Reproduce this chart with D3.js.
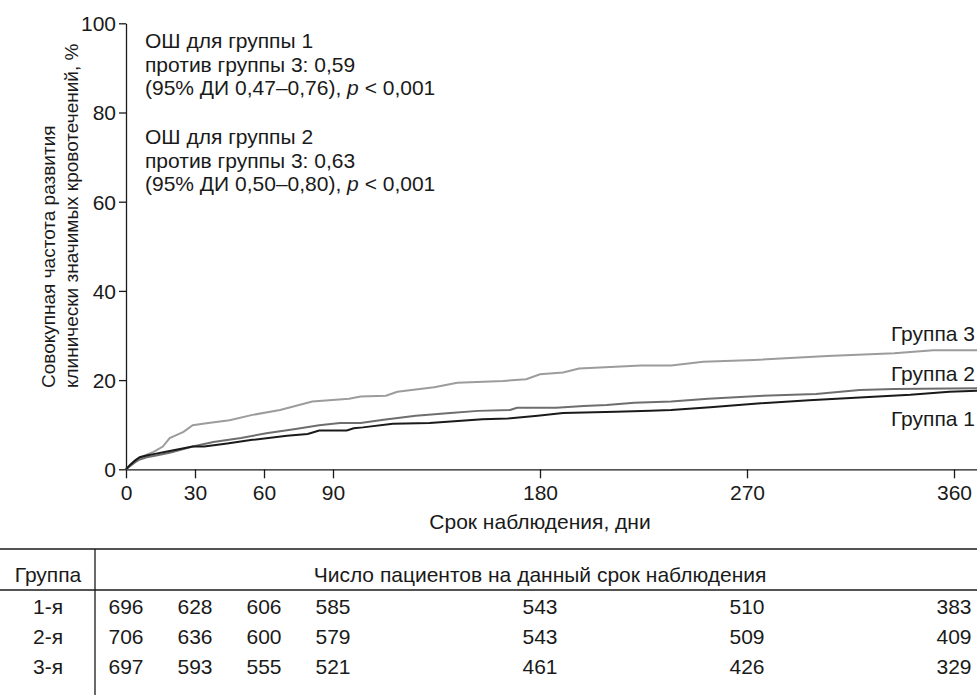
<!DOCTYPE html>
<html><head><meta charset="utf-8">
<script src="https://cdn.jsdelivr.net/npm/d3@7"></script>
<style>
body{margin:0;background:#fff;}
text{font-family:"Liberation Sans",Arial,sans-serif;fill:#1a1a1a;}
</style></head>
<body><svg id="c" width="977" height="695"></svg>
<script>
// Data (days, cumulative incidence %)
const group1Days = [0,2,4,6,9,12,19,24,29,34,44,55,70,79,84,96,99,103,116,132,155,166,179,190,213,228,237,254,276,297,319,341,358,370];
const group1Vals = [0,1.1,2.0,2.7,3.1,3.4,4.1,4.6,5.1,5.1,5.8,6.6,7.5,7.9,8.7,8.7,9.2,9.4,10.2,10.4,11.2,11.4,12.0,12.6,12.9,13.1,13.3,13.9,14.8,15.5,16.1,16.7,17.4,17.6];
const group2Days = [0,2,4,6,9,12,19,29,38,50,61,73,84,93,102,112,126,141,153,167,170,187,199,209,221,237,253,273,300,319,334,370];
const group2Vals = [0,0.8,1.6,2.2,2.7,3.0,3.7,5.1,6.1,7.0,8.1,9.0,9.9,10.4,10.4,11.1,12.0,12.6,13.1,13.3,13.8,13.8,14.2,14.4,14.9,15.2,15.8,16.4,16.9,17.8,18.0,18.2];
const group3Days = [0,2,4,6,9,12,16,19,25,29,35,45,55,67,81,97,102,113,118,134,144,164,174,180,190,197,224,237,251,273,305,334,351,370];
const group3Vals = [0,1.0,1.9,2.7,3.3,3.9,5.1,7.0,8.4,9.9,10.3,11.0,12.2,13.3,15.2,15.8,16.3,16.5,17.4,18.4,19.4,19.8,20.2,21.3,21.7,22.6,23.3,23.3,24.1,24.5,25.4,26.0,26.7,26.7];
const seriesNames = ["Группа 1","Группа 2","Группа 3"];
const xTicks = [0,30,60,90,180,270,360];
const yTicks = [0,20,40,60,80,100];
const tableRowLabels = ["1-я","2-я","3-я"];
const atRisk1 = [696,628,606,585,543,510,383];
const atRisk2 = [706,636,600,579,543,509,409];
const atRisk3 = [697,593,555,521,461,426,329];
const annotation1 = ["ОШ для группы 1","против группы 3: 0,59","(95% ДИ 0,47–0,76), "];
const annotation2 = ["ОШ для группы 2","против группы 3: 0,63","(95% ДИ 0,50–0,80), "];
const yTitle = ["Совокупная частота развития","клинически значимых кровотечений, %"];
const xTitle = "Срок наблюдения, дни";
const tableHeader = ["Группа","Число пациентов на данный срок наблюдения"];

const svg = d3.select("#c");
const FS = 21;
const x = d3.scaleLinear().domain([0,370]).range([126,977]);
const y = d3.scaleLinear().domain([0,100]).range([469.3,23.3]);

// axes
const xAxis = svg.append("g").attr("transform",`translate(0,${y(0)})`)
  .call(d3.axisBottom(x).tickValues(xTicks).tickSize(9).tickPadding(7).tickSizeOuter(0));
const yAxis = svg.append("g").attr("transform",`translate(${x(0)},0)`)
  .call(d3.axisLeft(y).tickValues(yTicks).tickSize(7).tickPadding(3).tickSizeOuter(0));
[xAxis,yAxis].forEach(a=>{
  a.attr("font-family",null).attr("font-size",null);
  a.select(".domain").attr("stroke","#1a1a1a").attr("stroke-width",1.3);
  a.selectAll(".tick line").attr("stroke","#1a1a1a").attr("stroke-width",1.3);
  a.selectAll(".tick text").style("font-size",FS+"px").attr("fill","#1a1a1a");
});
xAxis.selectAll(".tick text").attr("dy","0.71em");
yAxis.selectAll(".tick text").attr("dy","0.35em");

// y title
yTitle.forEach((t,i)=>{
  svg.append("text").attr("transform",`translate(${[55,78][i]},388) rotate(-90)`)
    .attr("text-anchor","start").style("font-size","19px").text(t);
});
// x title
svg.append("text").attr("x",x(180)).attr("y",529).attr("text-anchor","middle")
  .style("font-size",FS+"px").text(xTitle);

// lines
const mk = (ds,vs)=>ds.map((d,i)=>[d,vs[i]]);
const series = [
  {name:seriesNames[0],data:mk(group1Days,group1Vals),color:"#1a1a1a"},
  {name:seriesNames[1],data:mk(group2Days,group2Vals),color:"#6e6e6e"},
  {name:seriesNames[2],data:mk(group3Days,group3Vals),color:"#9c9c9c"}
];
const line = d3.line().x(d=>x(d[0])).y(d=>y(d[1])).curve(d3.curveLinear);
[2,1,0].forEach(i=>{
  svg.append("path").datum(series[i].data).attr("d",line)
    .attr("fill","none").attr("stroke",series[i].color).attr("stroke-width",2);
});
// series labels
const labelY = [426,381,341];
seriesNames.forEach((n,i)=>{
  svg.append("text").attr("x",975).attr("y",labelY[i]).attr("text-anchor","end")
    .style("font-size",FS+"px").text(n);
});

// annotations
function annot(lines,y0){
  lines.forEach((l,i)=>{
    const t = svg.append("text").attr("x",145).attr("y",y0+i*23.5).style("font-size",FS+"px").text(l);
    if(i===2){
      t.append("tspan").style("font-style","italic").text("p");
      t.append("tspan").text(" < 0,001");
    }
  });
}
annot(annotation1,48);
annot(annotation2,144);

// table
const lineC = "#1a1a1a";
svg.append("line").attr("x1",0).attr("x2",977).attr("y1",549).attr("y2",549).attr("stroke",lineC).attr("stroke-width",1.3);
svg.append("line").attr("x1",0).attr("x2",977).attr("y1",590).attr("y2",590).attr("stroke",lineC).attr("stroke-width",1.3);
svg.append("line").attr("x1",95).attr("x2",95).attr("y1",549).attr("y2",695).attr("stroke",lineC).attr("stroke-width",1.3);
svg.append("text").attr("x",48).attr("y",582).attr("text-anchor","middle").style("font-size",FS+"px").text(tableHeader[0]);
svg.append("text").attr("x",x(180)).attr("y",582).attr("text-anchor","middle").style("font-size",FS+"px").text(tableHeader[1]);
const rows = [atRisk1,atRisk2,atRisk3];
rows.forEach((r,ri)=>{
  const yy = 614+ri*30;
  svg.append("text").attr("x",48).attr("y",yy).attr("text-anchor","middle").style("font-size",FS+"px").text(tableRowLabels[ri]);
  r.forEach((v,ci)=>{
    svg.append("text").attr("x",x(xTicks[ci])).attr("y",yy)
      .attr("text-anchor","middle").style("font-size",FS+"px").text(v);
  });
});
</script></body></html>
